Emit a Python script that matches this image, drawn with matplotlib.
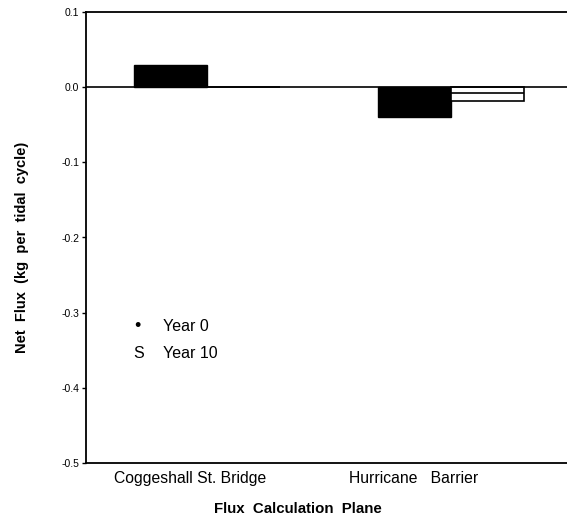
import matplotlib.pyplot as plt

plt.rcParams['font.family'] = ['Liberation Sans', 'DejaVu Sans']

sites = ["Coggeshall St. Bridge", "Hurricane   Barrier"]
year0 = [0.03, -0.04]
year10 = [0.0, -0.018]

# bar centres for the two sites (year 0 bar, year 10 bar sits right next to it)
pos = [0.0, 3.34]
w = 1.0

fig = plt.figure(figsize=(5.67, 5.28), dpi=100)
ax = fig.add_axes([86/567, 1 - 463/528, (567 - 86)/567, (463 - 12)/528])

ax.bar(pos, year0, width=w, color='black', edgecolor='black', linewidth=1)
ax.bar([p + w for p in pos], year10, width=w, color='white', edgecolor='black', linewidth=1.2)
# inner rule in the year 10 bar
ax.hlines(-0.008, pos[1] + w/2, pos[1] + 1.5*w, color='black', linewidth=1.2)

ax.axhline(0, color='black', linewidth=1.2)

ax.set_xlim(-1.16, 5.43)
ax.set_ylim(-0.5, 0.1)
ax.set_yticks([0.1, 0.0, -0.1, -0.2, -0.3, -0.4, -0.5])
ax.set_yticklabels(["0.1", "0.0", "-0.1", "-0.2", "-0.3", "-0.4", "-0.5"], fontsize=7.5)
ax.set_xticks([0.27, 3.33])
ax.set_xticklabels(sites, fontsize=11.3)
ax.tick_params(axis='x', length=0, pad=6)
ax.tick_params(axis='y', length=3, width=1, pad=2)

ax.spines['right'].set_visible(False)
for s in ['left', 'top', 'bottom']:
    ax.spines[s].set_linewidth(1.3)

ax.set_ylabel("Net  Flux  (kg  per  tidal  cycle)", fontsize=10.5, fontweight='bold')
ax.yaxis.set_label_coords(-0.118, 0.477)

# legend written as plain text
ax.text(0.106, 0.303, "\u2022", transform=ax.transAxes, fontsize=13, ha='center', va='center')
ax.text(0.16, 0.303, "Year 0", transform=ax.transAxes, fontsize=11.5, va='center')
ax.text(0.110, 0.243, "S", transform=ax.transAxes, fontsize=11.5, ha='center', va='center')
ax.text(0.16, 0.243, "Year 10", transform=ax.transAxes, fontsize=11.5, va='center')

fig.text(298/567, 1 - 509/528, "Flux  Calculation  Plane", fontsize=10.8, fontweight='bold',
         ha='center', va='center')

plt.savefig("out.png", dpi=100)
